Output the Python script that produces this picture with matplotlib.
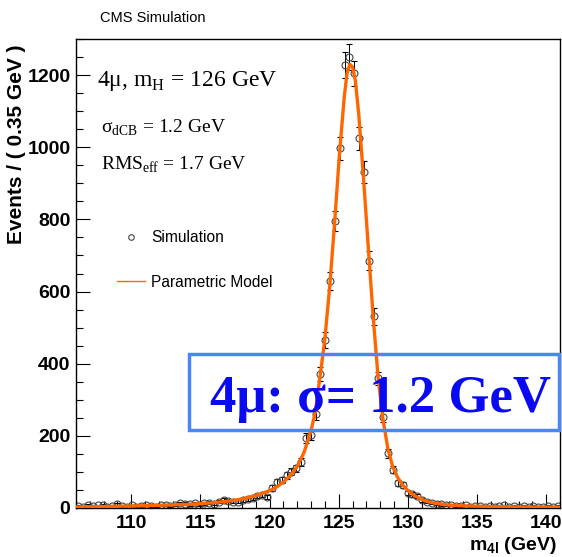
import numpy as np
import matplotlib
matplotlib.use("Agg")
import matplotlib.pyplot as plt
from matplotlib.patches import Rectangle
from matplotlib.lines import Line2D
from matplotlib.ticker import MultipleLocator

# binned simulation, 100 bins of 0.35 GeV from 106 to 141
bin_lo = 106.0
bin_width = 0.35
events = [6, 4, 8, 5, 7, 9, 4, 6, 11, 5,
          3, 7, 4, 5, 8, 6, 4, 7, 9, 5,
          8, 13, 12, 10, 14, 9, 13, 15, 12, 17,
          22, 20, 17, 17, 22, 24, 27, 33, 36, 31,
          55, 73, 78, 91, 101, 110, 128, 193, 202, 261,
          372, 466, 628, 795, 997, 1228, 1250, 1205, 1025, 930,
          686, 531, 359, 253, 152, 106, 68, 63, 42, 38,
          33, 22, 18, 14, 12, 10, 8, 9, 6, 5,
          7, 4, 6, 5, 3, 6, 4, 5, 7, 3,
          5, 4, 6, 3, 5, 4, 2, 5, 4, 6]

# parametric model
model_x = [106, 108, 110, 112, 114, 115, 116, 117, 118, 119, 120, 120.5, 121, 121.5,
           122, 122.5, 122.75, 123, 123.3, 123.65, 124, 124.35, 124.7, 125.05, 125.4,
           125.6, 125.8, 126.0, 126.2, 126.45, 126.8, 127.15, 127.5, 127.85, 128.2,
           128.55, 128.9, 129.25, 129.6, 130, 130.5, 131, 131.5, 132, 133, 134, 136,
           138, 141]
model_y = [3, 4, 5.5, 7.5, 10, 12, 15, 19, 25, 34, 48, 58, 72, 90,
           115, 155, 185, 215, 265, 365, 470, 615, 790, 980, 1140,
           1205, 1230, 1222, 1185, 1090, 910, 715, 525, 360, 245,
           165, 115, 85, 65, 48, 34, 24, 17, 13, 8, 6, 4,
           3, 2.5]

W, H = 562, 557
fig = plt.figure(figsize=(W / 100, H / 100), dpi=100)
ax = fig.add_axes([76 / W, 1 - 508 / H, (560 - 76) / W, (508 - 39) / H])

centers = bin_lo + bin_width * (np.arange(len(events)) + 0.5)
counts = np.array(events, dtype=float)
ax.errorbar(centers, counts, yerr=np.sqrt(counts), fmt='o', ms=5, mfc='none',
            mec='#444444', mew=0.8, ecolor='black', elinewidth=0.7, capsize=2,
            capthick=0.7, zorder=2)
ax.plot(model_x, model_y, color='#ff6600', lw=2.4, zorder=3)

ax.set_xlim(106, 141)
ax.set_ylim(0, 1300)
ax.xaxis.set_major_locator(MultipleLocator(5))
ax.xaxis.set_minor_locator(MultipleLocator(1))
ax.yaxis.set_major_locator(MultipleLocator(200))
ax.yaxis.set_minor_locator(MultipleLocator(50))
ax.tick_params(which='both', direction='in', width=0.8, top=False, right=False)
ax.tick_params(which='major', length=10)
ax.tick_params(which='minor', length=5)
ax.tick_params(axis='y', pad=4)
ax.tick_params(axis='x', pad=5)
for lab in ax.get_xticklabels() + ax.get_yticklabels():
    lab.set_fontfamily('Liberation Sans')
    lab.set_fontweight('bold')
    lab.set_fontsize(14)
for sp in ax.spines.values():
    sp.set_linewidth(1.0)

plt.rcParams['mathtext.fontset'] = 'custom'
plt.rcParams['mathtext.rm'] = 'Liberation Serif'

fig.text(17 / W, 1 - 45 / H, 'Events / ( 0.35 GeV )', rotation=90, ha='center',
         va='top', family='Liberation Sans', weight='bold', fontsize=15)
fig.text(557 / W, 1 - 545 / H, r'm$_\mathregular{4l}$ (GeV)', ha='right',
         va='center', family='Liberation Sans', weight='bold', fontsize=14)
fig.text(100 / W, 1 - 22 / H, 'CMS Simulation', family='Liberation Sans',
         fontsize=10.5, va='baseline')

serif = 'Liberation Serif'
fig.text(97 / W, 1 - 86 / H, r'4μ, m$_\mathregular{H}$ = 126 GeV', family=serif,
         fontsize=17, va='baseline')
fig.text(101 / W, 1 - 132.5 / H, r'σ$_\mathregular{dCB}$ = 1.2 GeV', family=serif,
         fontsize=14, va='baseline')
fig.text(101 / W, 1 - 170 / H, r'RMS$_\mathregular{eff}$ = 1.7 GeV', family=serif,
         fontsize=14, va='baseline')

handles = [Line2D([], [], ls='none', marker='o', ms=4, mfc='none', mec='#444444', mew=0.8),
           Line2D([], [], color='#ff6600', lw=1.0)]
ax.legend(handles, ['Simulation', 'Parametric Model'], loc='upper left',
          bbox_to_anchor=((117 - 76) / (560 - 76), (508 - 230) / (508 - 39)),
          frameon=False, borderpad=0, borderaxespad=0, handlelength=1.8,
          handletextpad=0.4, labelspacing=1.9,
          prop={'family': 'Liberation Sans', 'size': 11.2})

fig.patches.append(Rectangle((189 / W, 1 - 430 / H), (559 - 189) / W, (430 - 354) / H,
                             transform=fig.transFigure, fill=False, ec='#4a86f5',
                             lw=2.5, zorder=5))
fig.text(380 / W, 1 - 412 / H, '4μ: σ= 1.2 GeV', ha='center', va='baseline',
         family='Liberation Serif', weight='bold', fontsize=38, color='#0a0af0',
         zorder=6)

fig.savefig('out.png', dpi=100)
